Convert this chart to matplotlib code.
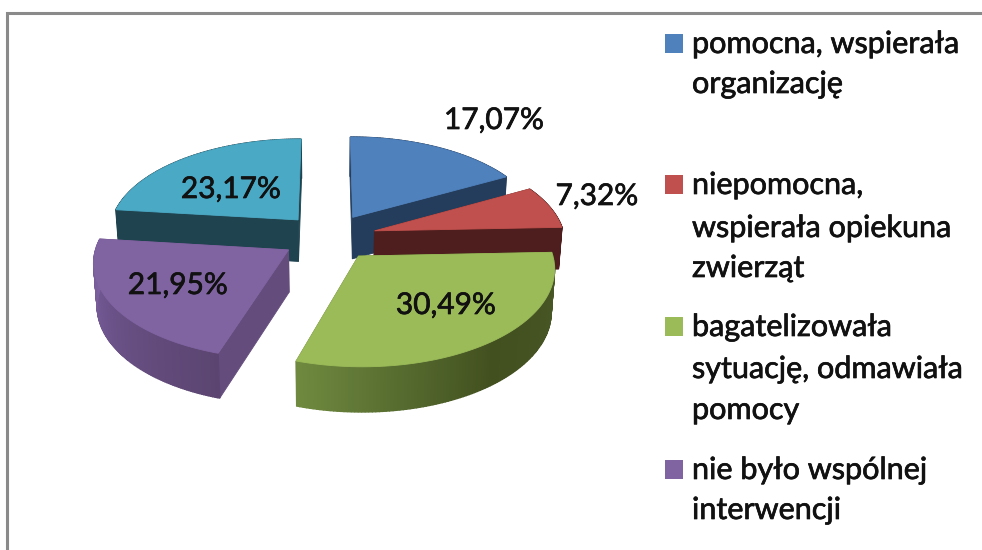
import numpy as np
import matplotlib
matplotlib.use("Agg")
import matplotlib.pyplot as plt
import matplotlib.patheffects as pe
from matplotlib.colors import to_rgb
from matplotlib.patches import Polygon, Rectangle

plt.rcParams['font.family'] = ['Lato', 'DejaVu Sans']

categories = [
    "pomocna, wspierała\norganizację",
    "niepomocna,\nwspierała opiekuna\nzwierząt",
    "bagatelizowała\nsytuację, odmawiała\npomocy",
    "nie było wspólnej\ninterwencji",
    "",
]
values = [17.07, 7.32, 30.49, 21.95, 23.17]
value_labels = ["17,07%", "7,32%", "30,49%", "21,95%", "23,17%"]
top_colors = ["#4F81BD", "#C0504D", "#9BBB59", "#8064A2", "#4AA9C5"]
face_colors = ["#243D5C", "#4D1E1D", "#55692E", "#644C7C", "#1F4450"]
rim_stops = [
    ["#243D5C", "#243D5C"],
    ["#4D1E1D", "#4D1E1D"],
    ["#4C5C28", "#465424", "#42501F", "#566B2F", "#6F8A3F"],
    ["#5B4570", "#6A5187", "#7F63A3"],
    ["#1F4450", "#1F4450"],
]
draw_order = [4, 0, 1, 3, 2]

# layout of the 3D projection, in pixels
CX, CY = 329, 237
A, B = 190, 93.6
K, EXPL, DEPTH, CONV = 0.113, 0.25, 42, 0.985

fig = plt.figure(figsize=(9.82, 5.5), dpi=100)
ax = fig.add_axes([0, 0, 1, 1])
ax.set_xlim(0, 982)
ax.set_ylim(550, 0)
ax.axis("off")


def project(X, Y, bottom=False):
    s = 1 / (1 + K * Y)
    x = CX + A * X * s
    y = CY - B * Y * s
    if bottom:
        x = CX + (x - CX) * CONV
        y = y + DEPTH * np.sqrt(s)
    return x, y


def lerp_stops(stops, f):
    cols = np.array([to_rgb(c) for c in stops])
    p = f * (len(cols) - 1)
    i = min(int(p), len(cols) - 2)
    return tuple(cols[i] + (cols[i + 1] - cols[i]) * (p - i))


edges = np.cumsum([0] + values) / sum(values) * 2 * np.pi
mids = (edges[:-1] + edges[1:]) / 2

for idx in draw_order:
    t0, t1, m = edges[idx], edges[idx + 1], mids[idx]
    ox, oy = EXPL * np.sin(m), EXPL * np.cos(m)
    th = np.linspace(t0, t1, 120)
    rx, ry = ox + np.sin(th), oy + np.cos(th)
    xt, yt = project(rx, ry)
    xb, yb = project(rx, ry, bottom=True)
    axt, ayt = project(ox, oy)
    axb, ayb = project(ox, oy, bottom=True)

    # cut faces
    for e in (0, -1):
        ax.add_patch(Polygon([(axt, ayt), (xt[e], yt[e]), (xb[e], yb[e]), (axb, ayb)],
                             closed=True, fc=face_colors[idx], ec=face_colors[idx],
                             lw=0.6, zorder=1))
    # outer rim, shaded strip by strip
    for j in range(len(th) - 1):
        c = lerp_stops(rim_stops[idx], j / (len(th) - 2))
        ax.add_patch(Polygon([(xt[j], yt[j]), (xt[j + 1], yt[j + 1]),
                              (xb[j + 1], yb[j + 1]), (xb[j], yb[j])],
                             closed=True, fc=c, ec=c, lw=1.0, zorder=1))
    # top surface
    ax.add_patch(Polygon(np.r_[[[axt, ayt]], np.c_[xt, yt]], closed=True,
                         fc=top_colors[idx], ec=top_colors[idx], lw=0.6, zorder=1))

heavy = [pe.withStroke(linewidth=0.5, foreground="#111111")]

# data labels
label_pos = [(494, 120), (597, 196), (446, 305), (178, 285), (231, 189)]
for txt, (x, y) in zip(value_labels, label_pos):
    ax.text(x, y, txt, ha="center", va="center", fontsize=21.5, color="#111111",
            zorder=5, path_effects=heavy)

# legend
legend_line_y = [[44, 84], [185, 228, 268], [327, 369, 410], [470, 510]]
for i, ys in enumerate(legend_line_y):
    ax.add_patch(Rectangle((665, ys[0] - 10.5), 18, 19, fc=top_colors[i], ec="none", zorder=5))
    for line, y in zip(categories[i].split("\n"), ys):
        ax.text(692, y, line, ha="left", va="center", fontsize=22, color="#111111",
                zorder=5, path_effects=heavy)

# frame
ax.plot([7.5, 7.5, 982], [550, 12.5, 12.5], color="#8A8A8A", lw=2.2,
        solid_joinstyle="miter", zorder=6)

fig.savefig("out.png", dpi=100, facecolor="white")
